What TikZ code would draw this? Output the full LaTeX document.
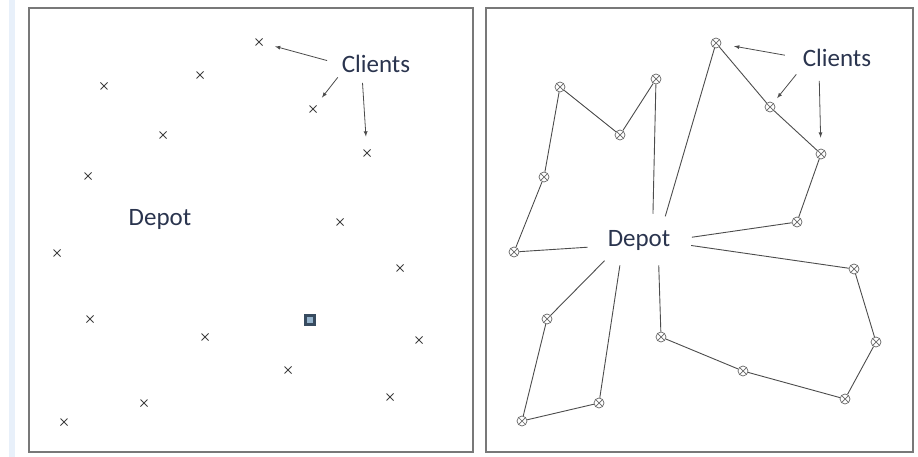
\documentclass[tikz,border=0pt]{standalone}
\usepackage{fontspec}
\setmainfont{Carlito}
\usetikzlibrary{shapes.misc,shapes.geometric}
\definecolor{labelblue}{RGB}{42,52,78}
\definecolor{framegray}{RGB}{120,120,120}
\definecolor{stripblue}{RGB}{232,240,250}
\definecolor{depotdark}{RGB}{55,75,95}
\definecolor{depotlight}{RGB}{150,180,205}

\begin{document}
\begin{tikzpicture}[
x=1pt, y=-1pt,
client/.style={
  draw=black!75,
  cross out,
  line width=1pt,
  minimum size=6pt,
  inner sep=0pt
  },
visit/.style={
  draw=black!60,
  circle,
  line width=0.7pt,
  minimum size=10pt,
  inner sep=0pt,
  path picture={\draw[black!60,line width=0.7pt]
    (path picture bounding box.north west) -- (path picture bounding box.south east)
    (path picture bounding box.north east) -- (path picture bounding box.south west);}
  },
tag/.style={
  text=labelblue,
  font=\fontsize{25}{30}\selectfont,
  inner sep=2pt
  },
panel/.style={draw=framegray, line width=1.6pt},
pointer/.style={-latex, black!70, line width=0.8pt},
route/.style={black!70, line width=0.9pt}
]
\useasboundingbox (0,0) rectangle (918,457);
\fill[stripblue] (9,0) rectangle (15,457);
\draw[panel] (29,8) rectangle (473,452);
\draw[panel] (486,8) rectangle (913,452);

% left: clients and depot
\foreach \x/\y [count=\n] in {259/42,200/75,104/86,313/109,163/135,367/153,88/176,340/222,57/253,400/268,90/319,205/337,419/340,288/370,390/397,144/403,64/422}
  \node[client] (l\n) at (\x,\y) {};
\node[draw=depotdark, fill=depotlight, line width=2.2pt, minimum size=9pt, inner sep=0pt] (depotL) at (310,320) {};
\node[tag] (depotlabelL) at (160,219) {Depot};
\node[tag] (clientsL) at (376,64) {Clients};
\draw[pointer, shorten <=13pt, shorten >=13pt] (clientsL.west) -- (l1);
\draw[pointer, shorten <=3pt, shorten >=10pt] (clientsL.south west) -- (l4);
\draw[pointer, shorten <=8pt, shorten >=13pt] ([xshift=-14pt]clientsL.south) -- (l6);

% right: routes
\foreach \name/\x/\y in {a/716/43,b/656/79,c/560/87,d/770/107,e/620/135,f/821/154,g/544/177,h/797/222,i/514/252,j/854/269,k/547/319,l/661/337,m/876/342,n/743/371,o/845/399,p/599/403,q/522/421}
  \node[visit] (r\name) at (\x,\y) {};
\node[tag, ellipse, minimum width=106pt, minimum height=54pt] (depotR) at (639,240) {Depot};
\node[tag] (clientsR) at (837,58) {Clients};
\draw[route] (depotR.188) -- (ri) -- (rg) -- (rc) -- (re) -- (rb) -- (depotR.62);
\draw[route] (depotR.42) -- (ra) -- (rd) -- (rf) -- (rh) -- (depotR.3);
\draw[route] (depotR.-6) -- (rj) -- (rm) -- (ro) -- (rn) -- (rl) -- (depotR.-52);
\draw[route] (depotR.-149) -- (rk) -- (rq) -- (rp) -- (depotR.-127);
\draw[pointer, shorten <=16pt, shorten >=13pt] (clientsR.west) -- (ra);
\draw[pointer, shorten <=7pt, shorten >=6pt] (clientsR.south west) -- (rd);
\draw[pointer, shorten <=12pt, shorten >=11pt] ([xshift=-18pt]clientsR.south) -- (rf);
\end{tikzpicture}
\end{document}
